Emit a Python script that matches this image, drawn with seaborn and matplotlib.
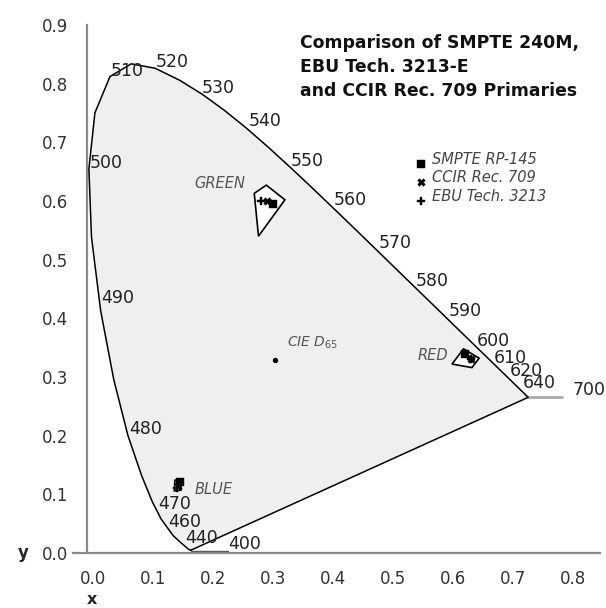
import matplotlib
matplotlib.use("Agg")
import matplotlib.pyplot as plt
import matplotlib.transforms as mtrans
import seaborn as sns
import pandas as pd

# CIE 1931 spectral locus (wavelength nm, x, y)
wavelengths = [380, 390, 400, 410, 420, 430, 440, 450, 460, 470, 475, 480, 485, 490,
               495, 500, 505, 510, 515, 520, 525, 530, 535, 540, 545, 550, 555, 560,
               565, 570, 575, 580, 585, 590, 595, 600, 605, 610, 620, 630, 640, 650,
               660, 680, 700]
locus_x = [0.1741, 0.1738, 0.1733, 0.1726, 0.1714, 0.1689, 0.1644, 0.1566, 0.1440, 0.1241,
           0.1096, 0.0913, 0.0687, 0.0454, 0.0235, 0.0082, 0.0039, 0.0139, 0.0389, 0.0743,
           0.1142, 0.1547, 0.1929, 0.2296, 0.2658, 0.3016, 0.3373, 0.3731, 0.4087, 0.4441,
           0.4788, 0.5125, 0.5448, 0.5752, 0.6029, 0.6270, 0.6482, 0.6658, 0.6915, 0.7079,
           0.7190, 0.7260, 0.7300, 0.7334, 0.7347]
locus_y = [0.0050, 0.0049, 0.0048, 0.0048, 0.0051, 0.0069, 0.0109, 0.0177, 0.0297, 0.0578,
           0.0868, 0.1327, 0.2007, 0.2950, 0.4127, 0.5384, 0.6548, 0.7502, 0.8120, 0.8338,
           0.8262, 0.8059, 0.7816, 0.7543, 0.7243, 0.6923, 0.6589, 0.6245, 0.5896, 0.5547,
           0.5202, 0.4866, 0.4544, 0.4242, 0.3965, 0.3725, 0.3514, 0.3340, 0.3083, 0.2920,
           0.2809, 0.2740, 0.2700, 0.2666, 0.2653]

# wavelength labels and where they are written
wl_labels = ["400", "440", "460", "470", "480", "490", "500", "510", "520", "530", "540",
             "550", "560", "570", "580", "590", "600", "610", "620", "640"]
wl_label_x = [0.263, 0.192, 0.164, 0.147, 0.099, 0.052, 0.032, 0.067, 0.142, 0.219, 0.297,
              0.367, 0.438, 0.513, 0.575, 0.630, 0.676, 0.705, 0.731, 0.753]
wl_label_y = [0.015, 0.026, 0.052, 0.084, 0.212, 0.434, 0.664, 0.822, 0.837, 0.792, 0.736,
              0.669, 0.601, 0.528, 0.464, 0.412, 0.362, 0.333, 0.311, 0.290]

# primaries
standards = ["SMPTE RP-145", "CCIR Rec. 709", "EBU Tech. 3213"]
red_x = [0.630, 0.640, 0.640]
red_y = [0.340, 0.330, 0.330]
green_x = [0.310, 0.300, 0.290]
green_y = [0.595, 0.600, 0.600]
blue_x = [0.155, 0.152, 0.150]
blue_y = [0.121, 0.115, 0.110]

# tolerance regions
green_region_x = [0.299, 0.330, 0.286, 0.279]
green_region_y = [0.627, 0.602, 0.540, 0.613]
red_region_x = [0.627, 0.653, 0.641, 0.608]
red_region_y = [0.348, 0.332, 0.316, 0.322]
blue_region_x = [0.147, 0.158, 0.157, 0.146]
blue_region_y = [0.124, 0.125, 0.107, 0.106]

d65 = (0.3127, 0.3290)

sns.set_theme(style="white")
plt.rcParams["font.family"] = ["DejaVu Sans"]

fig = plt.figure(figsize=(6.06, 6.08), dpi=100)
ax = fig.add_axes([0.12, 0.0905, 0.870, 0.8684])
ax.set_xlim(-0.023, 0.854)
ax.set_ylim(0, 0.9)

# locus fill + outline
closed_x = locus_x + [locus_x[0]]
closed_y = locus_y + [locus_y[0]]
ax.fill(closed_x, closed_y, color="#efefef", zorder=1, lw=0)
df_locus = pd.DataFrame({"x": closed_x, "y": closed_y})
sns.lineplot(data=df_locus, x="x", y="y", sort=False, estimator=None, color="black",
             lw=1.1, ax=ax, zorder=3)

# leader lines for 400 and 700
ax.plot([locus_x[0], 0.236], [0.004, 0.004], color="#555555", lw=1.0, zorder=2)
ax.plot([locus_x[-1], 0.791], [locus_y[-1], locus_y[-1]], color="#aaaaaa", lw=2.0, zorder=2)

# regions
for rx, ry in [(green_region_x, green_region_y), (red_region_x, red_region_y),
               (blue_region_x, blue_region_y)]:
    ax.fill(rx, ry, facecolor="white", edgecolor="black", lw=1.2, zorder=4)

markers = ["s", "X", "P"]
msizes = [28, 30, 34]
for i, std in enumerate(standards):
    dfp = pd.DataFrame({"x": [red_x[i], green_x[i], blue_x[i]],
                        "y": [red_y[i], green_y[i], blue_y[i]]})
    sns.scatterplot(data=dfp, x="x", y="y", marker=markers[i], s=msizes[i], color="black",
                    edgecolor="black", linewidth=0.3, ax=ax, zorder=5)

# D65
ax.scatter([d65[0]], [d65[1]], s=8, color="black", zorder=5)
ax.text(0.333, 0.359, r"CIE D$_{65}$", fontsize=10, style="italic", color="#555555",
        ha="left", va="center")

# primary names
ax.text(0.180, 0.630, "GREEN", fontsize=10.5, style="italic", color="#555555", ha="left", va="center")
ax.text(0.550, 0.336, "RED", fontsize=10.5, style="italic", color="#555555", ha="left", va="center")
ax.text(0.180, 0.109, "BLUE", fontsize=10.5, style="italic", color="#555555", ha="left", va="center")

# wavelength labels
for lab, lx, ly in zip(wl_labels, wl_label_x, wl_label_y):
    ax.text(lx, ly, lab, fontsize=12.5, ha="center", va="center", color="#222222", zorder=6)
ax.text(0.808, 0.277, "700", fontsize=12.5, ha="left", va="center", color="#222222",
        clip_on=False)

# legend (manual)
leg_y = [0.663, 0.632, 0.600]
for i, std in enumerate(standards):
    ax.scatter([0.557], [leg_y[i]], marker=markers[i], s=msizes[i], color="black",
               linewidth=0.3, zorder=5)
    ax.text(0.574, leg_y[i], std, fontsize=10.5, style="italic", color="#444444",
            ha="left", va="baseline")

# title
ax.text(0.355, 0.884, "Comparison of SMPTE 240M,\nEBU Tech. 3213-E\nand CCIR Rec. 709 Primaries",
        fontsize=12.4, fontweight="bold", color="#111111", ha="left", va="top", linespacing=1.4)

# axes styling
for s in ["top", "right"]:
    ax.spines[s].set_visible(False)
ax.spines["left"].set_position(("data", 0))
ax.spines["left"].set_bounds(0, 0.9)
for s in ["left", "bottom"]:
    ax.spines[s].set_color("#8a8a8a")
    ax.spines[s].set_linewidth(1.6)
ax.set_xticks([i / 10 for i in range(9)])
ax.set_xticklabels([f"{i / 10:.1f}" for i in range(9)])
ax.set_yticks([i / 10 for i in range(10)])
ax.set_yticklabels([f"{i / 10:.1f}" for i in range(10)])
ax.tick_params(axis="both", direction="out", length=9, width=1.6, color="#8a8a8a",
               labelsize=12, labelcolor="#333333")
ax.tick_params(axis="y", pad=4)
ax.tick_params(axis="x", pad=3)
ax.set_xlabel("")
ax.set_ylabel("")
offset = mtrans.ScaledTranslation(6 / 100, 0, fig.dpi_scale_trans)
for lbl in ax.get_xticklabels():
    lbl.set_transform(lbl.get_transform() + offset)

ax.text(0.0095, -0.079, "x", fontsize=11.5, fontweight="bold", ha="center", va="center",
        clip_on=False)
ax.text(-0.106, 0.0, "y", fontsize=12, fontweight="bold", ha="center", va="center",
        clip_on=False)

fig.savefig("out.png", dpi=100)
